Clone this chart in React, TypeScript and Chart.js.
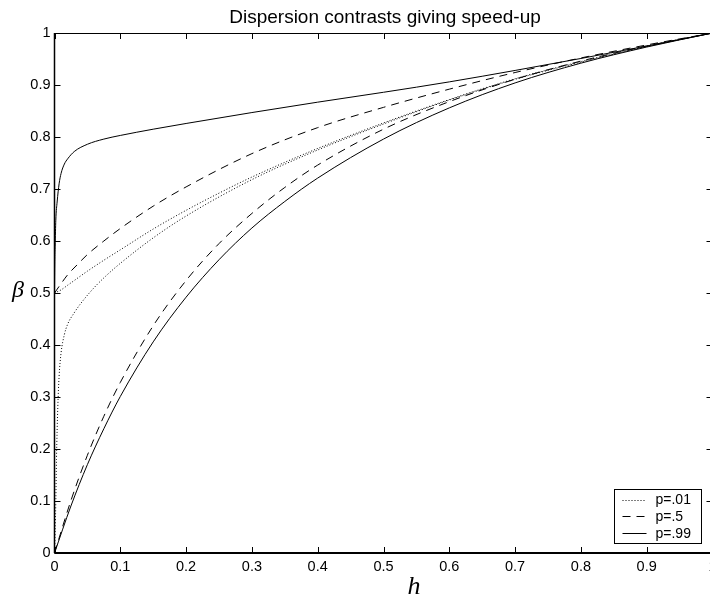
import React, { useEffect, useRef } from "react";
import { Chart, registerables } from "chart.js";

Chart.register(...registerables);

// Tick labels shared by both axes
const tickValues = [0, 0.1, 0.2, 0.3, 0.4, 0.5, 0.6, 0.7, 0.8, 0.9, 1];
const tickLabels = ["0", "0.1", "0.2", "0.3", "0.4", "0.5", "0.6", "0.7", "0.8", "0.9", "1"];

// p = .01 (dotted)
const hP01Upper = [0, 0.01, 0.02, 0.03, 0.05, 0.075, 0.1, 0.15, 0.2, 0.25, 0.3, 0.4, 0.5, 0.6, 0.7, 0.8, 0.9, 1];
const betaP01Upper = [0.5, 0.506, 0.515, 0.524, 0.542, 0.563, 0.583, 0.623, 0.659, 0.692, 0.723, 0.778, 0.827, 0.872, 0.912, 0.945, 0.974, 1];
const hP01Lower = [0, 0.001, 0.002, 0.003, 0.005, 0.007, 0.01, 0.015, 0.02, 0.03, 0.04, 0.06, 0.08, 0.1, 0.15, 0.2, 0.3, 0.4, 0.5, 0.6, 0.7, 0.8, 0.9, 1];
const betaP01Lower = [0, 0.04, 0.1, 0.18, 0.28, 0.34, 0.385, 0.42, 0.44, 0.462, 0.48, 0.51, 0.535, 0.557, 0.606, 0.648, 0.718, 0.775, 0.825, 0.871, 0.911, 0.944, 0.974, 1];

// p = .5 (dashed)
const hP5Upper = [0, 0.01, 0.02, 0.035, 0.05, 0.075, 0.1, 0.15, 0.2, 0.3, 0.4, 0.5, 0.6, 0.7, 0.8, 0.9, 1];
const betaP5Upper = [0.5, 0.518, 0.535, 0.555, 0.574, 0.6, 0.624, 0.667, 0.704, 0.768, 0.818, 0.857, 0.892, 0.924, 0.952, 0.977, 1];
const hP5Lower = [0, 0.025, 0.05, 0.075, 0.1, 0.15, 0.2, 0.25, 0.3, 0.35, 0.4, 0.5, 0.6, 0.7, 0.8, 0.9, 1];
const betaP5Lower = [0, 0.101, 0.188, 0.263, 0.328, 0.437, 0.524, 0.595, 0.653, 0.703, 0.746, 0.815, 0.868, 0.911, 0.946, 0.975, 1];

// p = .99 (solid)
const hP99Upper = [0, 0.0005, 0.001, 0.002, 0.004, 0.007, 0.01, 0.015, 0.02, 0.03, 0.05, 0.075, 0.1, 0.15, 0.2, 0.3, 0.4, 0.5, 0.6, 0.7, 0.8, 0.9, 1];
const betaP99Upper = [0.5, 0.56, 0.59, 0.64, 0.675, 0.71, 0.73, 0.748, 0.758, 0.772, 0.786, 0.796, 0.803, 0.815, 0.826, 0.847, 0.867, 0.886, 0.906, 0.928, 0.951, 0.975, 1];
const hP99Lower = [0, 0.025, 0.05, 0.075, 0.1, 0.15, 0.2, 0.25, 0.3, 0.35, 0.4, 0.5, 0.6, 0.7, 0.8, 0.9, 1];
const betaP99Lower = [0, 0.0905, 0.17, 0.239, 0.301, 0.406, 0.492, 0.564, 0.625, 0.676, 0.721, 0.796, 0.856, 0.904, 0.942, 0.973, 1];

const legendLabels = ["p=.01", "p=.5", "p=.99"];

const DOTTED = [1, 2];
const DASHED = [8, 6];
const SOLID: number[] = [];
const legendDashes = [DOTTED, DASHED, SOLID];

const toPoints = (hs: number[], bs: number[]) => hs.map((h, i) => ({ x: h, y: bs[i] }));

const curve = (hs: number[], bs: number[], dash: number[]) => ({
  data: toPoints(hs, bs),
  borderColor: "#000",
  borderWidth: 1,
  borderDash: dash,
  pointRadius: 0,
  showLine: true,
  fill: false,
  cubicInterpolationMode: "monotone" as const,
});

const SANS = '"Liberation Sans", Arial, Helvetica, sans-serif';
const SERIF = '"Liberation Serif", "Times New Roman", serif';

// Box, inward tick marks, title, axis symbols and legend, MATLAB style
const framePlugin = {
  id: "frame",
  afterDraw(chart: any) {
    const { ctx, chartArea, scales } = chart;
    const { left, right, top, bottom } = chartArea;
    const xs = scales.x;
    const ys = scales.y;
    const TL = 6;
    ctx.save();
    ctx.strokeStyle = "#000";
    ctx.setLineDash([]);

    // box
    ctx.lineWidth = 1;
    ctx.beginPath();
    ctx.moveTo(left, top + 0.5);
    ctx.lineTo(right, top + 0.5);
    ctx.moveTo(right + 0.5, top);
    ctx.lineTo(right + 0.5, bottom);
    ctx.stroke();
    ctx.lineWidth = 2;
    ctx.beginPath();
    ctx.moveTo(left, bottom);
    ctx.lineTo(right, bottom);
    ctx.stroke();
    ctx.lineWidth = 1.5;
    ctx.beginPath();
    ctx.moveTo(left, top);
    ctx.lineTo(left, bottom);
    ctx.stroke();

    // inward ticks on all four sides
    ctx.lineWidth = 1;
    ctx.beginPath();
    tickValues.forEach((v) => {
      const px = Math.round(xs.getPixelForValue(v)) + 0.5;
      ctx.moveTo(px, bottom);
      ctx.lineTo(px, bottom - TL);
      ctx.moveTo(px, top);
      ctx.lineTo(px, top + TL);
      const py = Math.round(ys.getPixelForValue(v)) + 0.5;
      ctx.moveTo(left, py);
      ctx.lineTo(left + TL, py);
      ctx.moveTo(right, py);
      ctx.lineTo(right - TL, py);
    });
    ctx.stroke();

    // title
    ctx.fillStyle = "#000";
    ctx.font = `19px ${SANS}`;
    ctx.textAlign = "center";
    ctx.textBaseline = "alphabetic";
    ctx.fillText("Dispersion contrasts giving speed-up", 385, 23);

    // axis symbols
    ctx.font = `italic 26px ${SERIF}`;
    ctx.fillText("h", 414, 594);
    ctx.font = `italic 24px ${SERIF}`;
    ctx.fillText("\u03b2", 18, 297);

    // legend
    const lx = 614.5;
    const ly = 489.5;
    const lw = 87;
    const lh = 54;
    ctx.fillStyle = "#fff";
    ctx.fillRect(lx, ly, lw, lh);
    ctx.lineWidth = 1;
    ctx.strokeRect(lx, ly, lw, lh);
    ctx.font = `14px ${SANS}`;
    ctx.textAlign = "left";
    ctx.textBaseline = "middle";
    legendLabels.forEach((label, i) => {
      const cy = ly + 10 + i * 16.8;
      ctx.setLineDash(legendDashes[i]);
      ctx.beginPath();
      ctx.moveTo(lx + 8, Math.round(cy) + 0.5);
      ctx.lineTo(lx + 32, Math.round(cy) + 0.5);
      ctx.stroke();
      ctx.setLineDash([]);
      ctx.fillStyle = "#000";
      ctx.fillText(label, lx + 41, cy + 1);
    });
    ctx.restore();
  },
};

export default function App() {
  const canvasRef = useRef<HTMLCanvasElement | null>(null);

  useEffect(() => {
    const canvas = canvasRef.current;
    if (!canvas) return;
    const chart = new Chart(canvas, {
      type: "scatter",
      data: {
        datasets: [
          curve(hP01Upper, betaP01Upper, DOTTED),
          curve(hP01Lower, betaP01Lower, DOTTED),
          curve(hP5Upper, betaP5Upper, DASHED),
          curve(hP5Lower, betaP5Lower, DASHED),
          curve(hP99Upper, betaP99Upper, SOLID),
          curve(hP99Lower, betaP99Lower, SOLID),
        ],
      },
      options: {
        animation: false,
        responsive: false,
        devicePixelRatio: 1,
        layout: { padding: { top: 33, right: 17.5, left: 0, bottom: 0 } },
        plugins: {
          legend: { display: false },
          tooltip: { enabled: false },
          title: { display: false },
        },
        scales: {
          x: {
            type: "linear",
            min: 0,
            max: 1,
            afterFit: (s: any) => {
              s.height = 43;
            },
            afterBuildTicks: (s: any) => {
              s.ticks = tickValues.map((v) => ({ value: v }));
            },
            grid: { display: false, drawTicks: false },
            border: { display: false },
            ticks: {
              padding: 5,
              color: "#000",
              font: { family: SANS, size: 14.5 },
              maxRotation: 0,
              callback: (_v: any, i: number) => tickLabels[i],
            },
          },
          y: {
            type: "linear",
            min: 0,
            max: 1,
            afterFit: (s: any) => {
              s.width = 54.5;
            },
            afterBuildTicks: (s: any) => {
              s.ticks = tickValues.map((v) => ({ value: v }));
            },
            grid: { display: false, drawTicks: false },
            border: { display: false },
            ticks: {
              padding: 4,
              color: "#000",
              font: { family: SANS, size: 14.5 },
              callback: (_v: any, i: number) => tickLabels[i],
            },
          },
        },
      },
      plugins: [framePlugin],
    });
    return () => chart.destroy();
  }, []);

  return (
    <div
      style={{
        position: "absolute",
        left: 0,
        top: 0,
        width: 710,
        height: 596,
        overflow: "hidden",
        background: "#fff",
      }}
    >
      <canvas ref={canvasRef} width={730} height={596} style={{ display: "block" }} />
    </div>
  );
}
